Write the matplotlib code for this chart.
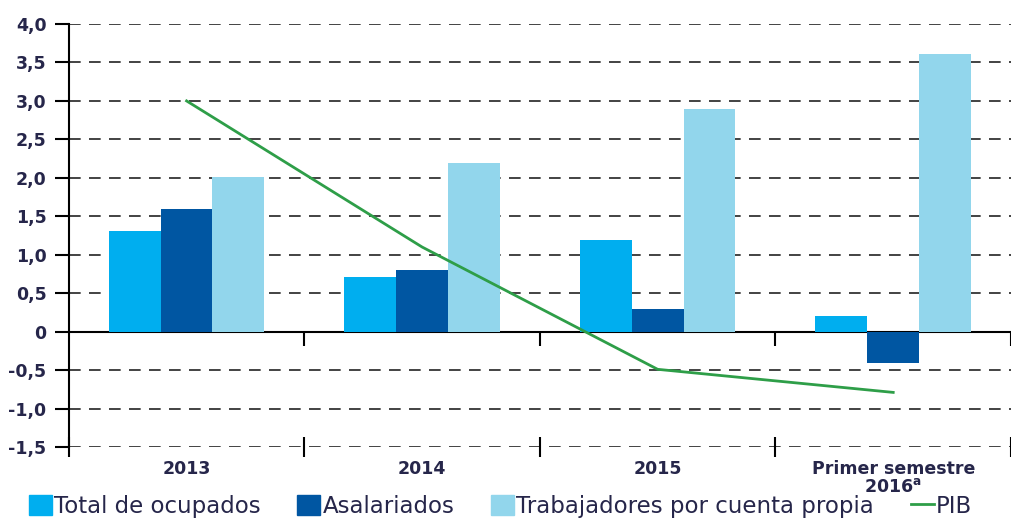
import matplotlib.pyplot as plt
import numpy as np
from matplotlib.lines import Line2D
from matplotlib.patches import Patch

plt.rcParams["font.family"] = ["DejaVu Sans"]

categories = ["2013", "2014", "2015", "Primer semestre\n2016$^{\\mathregular{a}}$"]
total_ocupados = [1.31, 0.71, 1.19, 0.20]
asalariados = [1.60, 0.80, 0.30, -0.41]
cuenta_propia = [2.01, 2.19, 2.89, 3.61]
pib = [3.0, 1.1, -0.49, -0.79]

yticks = [-1.5, -1.0, -0.5, 0, 0.5, 1.0, 1.5, 2.0, 2.5, 3.0, 3.5, 4.0]
ytick_labels = ["0" if v == 0 else f"{v:.1f}".replace(".", ",") for v in yticks]

c_total = "#00AEEF"
c_asal = "#0056A2"
c_propia = "#92D6EC"
c_pib = "#2E9E48"
txt = "#26264A"

fig = plt.figure(figsize=(10.12, 5.23), dpi=100)
ax = fig.add_axes([0.068, 0.1453, 0.931, 0.8088])

x = np.arange(len(categories))
w = 0.22
ax.bar(x - w, total_ocupados, w, color=c_total, zorder=3)
ax.bar(x, asalariados, w, color=c_asal, zorder=3)
ax.bar(x + w, cuenta_propia, w, color=c_propia, zorder=3)
ax.plot(x, pib, color=c_pib, lw=2, zorder=4)

ax.set_xlim(-0.5, 3.5)
ax.set_ylim(-1.5, 4.0)

ax.set_yticks(yticks)
ax.set_yticklabels(ytick_labels, fontsize=12.5, fontweight="bold", color=txt)
for v in yticks:
    if v != 0:
        ax.axhline(v, color="#222222", lw=1.2, ls=(0, (7, 5)), zorder=1)

for s in ["top", "right", "bottom"]:
    ax.spines[s].set_visible(False)
ax.spines["left"].set_linewidth(1.5)
ax.tick_params(axis="y", direction="out", length=10, width=1.5, pad=6)

# category labels at the bottom, boundary ticks crossing the -1.5 line
ax.set_xticks(x)
ax.set_xticklabels(categories, fontsize=12.5, fontweight="bold", color=txt,
                   linespacing=1.0)
ax.tick_params(axis="x", which="major", length=0, pad=9)
ax.set_xticks(np.arange(-0.5, 4.0, 1.0), minor=True)
ax.tick_params(axis="x", which="minor", direction="inout", length=14, width=1.5)

# zero axis with its own ticks
zero_pos = (0 - (-1.5)) / 5.5
sec = ax.secondary_xaxis(zero_pos)
sec.set_xticks(np.arange(0.5, 4.0, 1.0))
sec.set_xticklabels([])
sec.tick_params(direction="out", length=10, width=1.5)
sec.spines["bottom"].set_linewidth(1.5)

handles = [
    Patch(color=c_total, label="Total de ocupados"),
    Patch(color=c_asal, label="Asalariados"),
    Patch(color=c_propia, label="Trabajadores por cuenta propia"),
    Line2D([], [], color=c_pib, lw=2, label="PIB"),
]
fig.legend(handles=handles, loc="lower left", bbox_to_anchor=(0.008, -0.03),
           ncol=4, frameon=False, fontsize=16.5, handlelength=1.0,
           handleheight=1.0, handletextpad=0.1, columnspacing=1.6,
           labelcolor=txt)

fig.savefig("out.png", dpi=100)
